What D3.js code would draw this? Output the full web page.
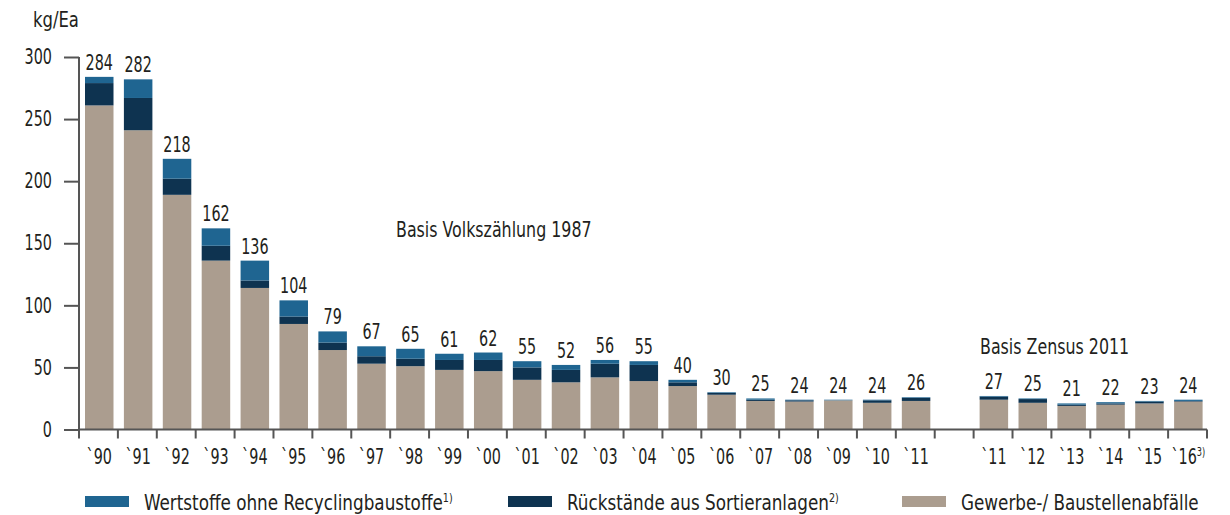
<!DOCTYPE html>
<html lang="de">
<head>
<meta charset="UTF-8">
<title>Gewerbe- und Baustellenabfälle kg/Ea</title>
<style>
  body { margin: 0; background: #fff; }
  svg { display: block; }
  svg text { font-family: "Liberation Sans Narrow", "DejaVu Sans Condensed", "Arial Narrow", sans-serif; fill: #231f20; font-size: 21px; }
  .axis line, .axis path { stroke: #555; stroke-width: 2px; }
</style>
</head>
<body>
<div id="chart"></div>
<script src="https://cdnjs.cloudflare.com/ajax/libs/d3/7.8.5/d3.min.js"></script>
<script>
  // slots: one empty slot between the two bases (1987 census / Zensus 2011)
  var slots = ['90','91','92','93','94','95','96','97','98','99','00','01','02','03','04','05','06','07','08','09','10','11a','gap','11b','12','13','14','15','16'];
  var yearLabels = ['`90','`91','`92','`93','`94','`95','`96','`97','`98','`99','`00','`01','`02','`03','`04','`05','`06','`07','`08','`09','`10','`11','','`11','`12','`13','`14','`15','`16'];
  var gewerbe     = [261, 241, 189, 136, 114, 85, 64, 53, 51, 48, 47, 40, 38, 42, 39, 35, 28,  23, 22.5, 23.5, 21.5, 23, null, 24, 21.5, 19, 20, 21, 22.5];
  var rueckstand  = [18,  26,  13,  12,  6,   6,  6,  6,  6,  8,  9,  10, 10, 11, 13, 3,  1.5, 1,  1,    0,    2,    2.5, null, 2.5, 3, 1, 1, 1.5, 0.5];
  var wertstoffe  = [5,   15,  16,  14,  16,  13, 9,  8,  8,  5,  6,  5,  4,  3,  3,  2,  0.5, 1,  0.5,  0.5,  0.5,  0.5, null, 0.5, 0.5, 1, 1, 0.5, 1];
  var totals      = [284, 282, 218, 162, 136, 104, 79, 67, 65, 61, 62, 55, 52, 56, 55, 40, 30, 25, 24, 24, 24, 26, null, 27, 25, 21, 22, 23, 24];
  var yTicks = [0, 50, 100, 150, 200, 250, 300];

  var seriesNames = ['Wertstoffe ohne Recyclingbaustoffe', 'Rückstände aus Sortieranlagen', 'Gewerbe-/ Baustellenabfälle'];
  var seriesSup = ['1)', '2)', ''];
  var colors = {gewerbe: '#ab9d8f', rueckstand: '#0e3350', wertstoffe: '#1f6591'};

  var width = 1230, height = 515;
  var svg = d3.select('#chart').append('svg')
    .attr('width', width)
    .attr('height', height);

  // the original uses a tall condensed face, squeeze the glyphs horizontally
  var narrow = function(px, py, sx) {
    return 'translate(' + px + ',' + py + ') scale(' + sx + ',1)';
  };

  var x = d3.scaleBand().domain(slots).range([79, 1207]).padding(0);
  var y = d3.scaleLinear().domain([0, 300]).range([429.5, 57]);

  var rows = slots.map(function(s, i) {
    return {key: s, label: yearLabels[i], gewerbe: gewerbe[i], rueckstand: rueckstand[i], wertstoffe: wertstoffe[i], total: totals[i]};
  }).filter(function(d) { return d.total !== null; });

  var stack = d3.stack().keys(['gewerbe', 'rueckstand', 'wertstoffe']);
  var layers = stack(rows);

  var barInset = 6, barWidth = 28.5;
  var cx = function(d) { return x(d.key) + barInset + barWidth / 2; };

  svg.append('g').selectAll('g')
    .data(layers)
    .join('g')
    .attr('fill', function(l) { return colors[l.key]; })
    .selectAll('rect')
    .data(function(l) { return l; })
    .join('rect')
    .attr('x', function(d) { return x(d.data.key) + barInset; })
    .attr('width', barWidth)
    .attr('y', function(d) { return y(d[1]); })
    .attr('height', function(d) { return y(d[0]) - y(d[1]); });

  // totals above bars
  svg.append('g').selectAll('text')
    .data(rows)
    .join('text')
    .attr('text-anchor', 'middle')
    .attr('transform', function(d) { return narrow(cx(d), y(d.total) - 7, 0.76); })
    .text(function(d) { return d.total; });

  // y axis
  var yAxis = svg.append('g')
    .attr('class', 'axis')
    .attr('transform', 'translate(79,0)')
    .call(d3.axisLeft(y).tickValues(yTicks).tickSize(15).tickSizeOuter(0));
  yAxis.select('.domain').attr('d', 'M0,' + y(300) + 'V' + y(0));
  yAxis.selectAll('text')
    .attr('font-size', null).attr('font-family', null)
    .attr('x', null)
    .attr('transform', narrow(-27, 0, 0.76));

  // x axis: ticks at slot boundaries
  var xg = svg.append('g').attr('class', 'axis');
  xg.append('line')
    .attr('x1', x.range()[0]).attr('x2', x.range()[1])
    .attr('y1', y(0)).attr('y2', y(0));
  var bounds = slots.map(function(s) { return x(s); }).concat([x.range()[1]]);
  xg.selectAll('line.tk')
    .data(bounds)
    .join('line')
    .attr('class', 'tk')
    .attr('x1', function(d) { return d; }).attr('x2', function(d) { return d; })
    .attr('y1', y(0)).attr('y2', y(0) + 9);

  var xl = svg.append('g').selectAll('text')
    .data(rows)
    .join('text')
    .attr('text-anchor', 'middle')
    .attr('transform', function(d) { return narrow(cx(d), 464, 0.76); })
    .text(function(d) { return d.label; });
  xl.filter(function(d) { return d.key === '16'; })
    .append('tspan').attr('dy', -8).attr('font-size', 12).text('3)');

  svg.append('text')
    .attr('transform', narrow(33, 27, 0.87))
    .text('kg/Ea');

  svg.append('text').attr('transform', narrow(396, 237, 0.84)).text('Basis Volkszählung 1987');
  svg.append('text').attr('transform', narrow(980, 354, 0.84)).text('Basis Zensus 2011');

  // legend
  var legendX = [85, 508, 902];
  var legendColors = [colors.wertstoffe, colors.rueckstand, colors.gewerbe];
  var legend = svg.append('g');
  var items = legend.selectAll('g')
    .data(seriesNames)
    .join('g')
    .attr('transform', function(d, i) { return 'translate(' + legendX[i] + ',496)'; });
  items.append('rect')
    .attr('width', 44).attr('height', 11)
    .attr('fill', function(d, i) { return legendColors[i]; });
  var lt = items.append('text')
    .attr('transform', narrow(59, 14, 0.89))
    .text(function(d) { return d; });
  lt.append('tspan')
    .attr('dy', -8).attr('font-size', 12)
    .text(function(d, i) { return seriesSup[i]; });
</script>
</body>
</html>
